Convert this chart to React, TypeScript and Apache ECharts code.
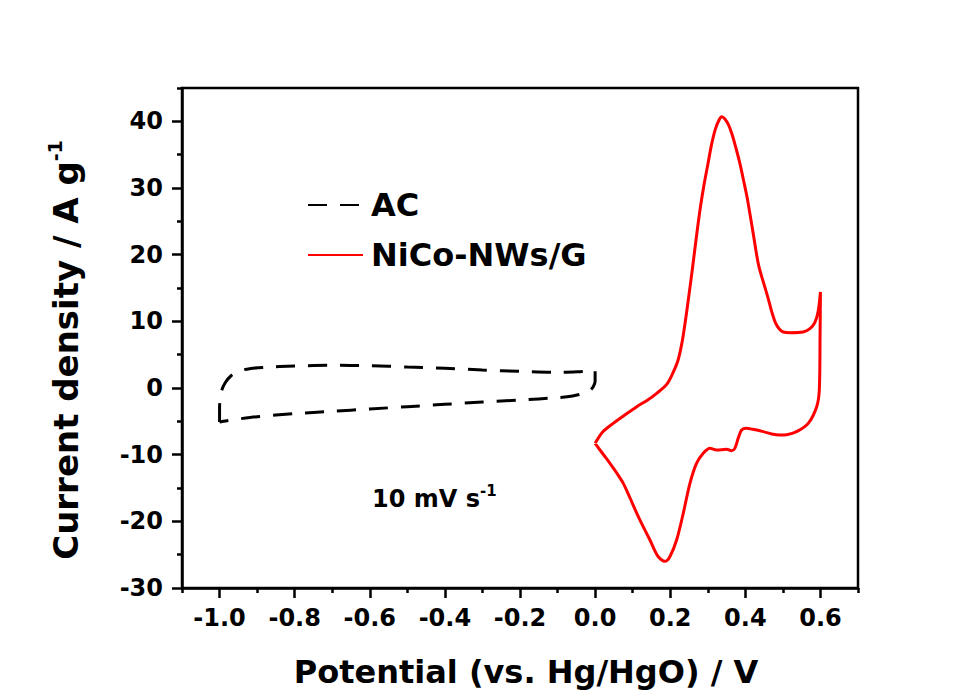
import React, { useEffect, useRef } from "react";
import * as echarts from "echarts";

// ---- Data ----
const seriesNames = ["AC", "NiCo-NWs/G"];

// AC (dashed black) cyclic voltammogram, potential in V, current in A/g
const acPotential = [
  -1.0, -1.0, -0.995, -0.985, -0.97, -0.95, -0.92, -0.88, -0.8, -0.7, -0.6, -0.5, -0.4, -0.3, -0.2, -0.1, -0.04, -0.01, 0.0,
  0.0, -0.005, -0.015, -0.03, -0.06, -0.1, -0.2, -0.3, -0.4, -0.5, -0.6, -0.7, -0.8, -0.9, -0.95, -0.98, -0.995, -1.0,
];
const acCurrent = [
  -5.1, -3.0, -0.5, 0.8, 1.8, 2.5, 2.9, 3.1, 3.3, 3.4, 3.35, 3.15, 2.95, 2.7, 2.5, 2.35, 2.45, 2.55, 2.6,
  1.0, 0.2, -0.4, -0.8, -1.2, -1.45, -1.8, -2.1, -2.45, -2.8, -3.15, -3.5, -3.85, -4.3, -4.65, -4.9, -5.05, -5.1,
];

// NiCo-NWs/G (solid red) cyclic voltammogram
const nicoPotential = [
  0.0, 0.02, 0.048, 0.08, 0.111, 0.14, 0.164, 0.19, 0.205, 0.221, 0.232, 0.241, 0.25, 0.26, 0.27, 0.28, 0.29, 0.3,
  0.31, 0.32, 0.33, 0.337, 0.345, 0.355, 0.365, 0.375, 0.385, 0.395, 0.405, 0.42, 0.435, 0.45, 0.46, 0.47, 0.48,
  0.49, 0.501, 0.52, 0.554, 0.572, 0.585, 0.594, 0.6,
  0.599, 0.597, 0.59, 0.5675, 0.5365, 0.51, 0.492, 0.47, 0.4476, 0.42, 0.4035, 0.39, 0.381, 0.372, 0.3635, 0.35,
  0.3236, 0.3057, 0.2879, 0.27, 0.2525, 0.2347, 0.217, 0.199, 0.186, 0.168, 0.146, 0.128, 0.111, 0.093, 0.075,
  0.057, 0.0395, 0.025, 0.013, 0.0,
];
const nicoCurrent = [
  -8.3, -6.6, -5.3, -4.0, -2.8, -1.8, -0.8, 0.5, 2.0, 4.2, 7.0, 10.3, 14.0, 18.3, 22.8, 27.0, 30.5, 33.5,
  36.5, 38.8, 40.2, 40.7, 40.4, 39.5, 38.0, 36.0, 33.8, 31.2, 28.5, 23.5, 18.5, 15.5, 13.6, 11.5, 9.8,
  8.9, 8.4, 8.3, 8.4, 8.9, 9.8, 11.5, 14.4,
  8.0, -0.3, -2.8, -5.3, -6.55, -7.0, -7.05, -6.9, -6.55, -6.2, -6.05, -6.3, -7.55, -9.05, -9.4, -9.2,
  -9.3, -9.05, -9.8, -11.3, -14.3, -18.8, -22.8, -25.3, -26.0, -25.3, -22.8, -20.8, -18.8, -16.5, -14.3,
  -12.7, -11.3, -10.2, -9.3, -8.3,
];

// Axis ticks and labels
const xMajorTicks = [-1.0, -0.8, -0.6, -0.4, -0.2, 0.0, 0.2, 0.4, 0.6];
const xMinorTicks = [-1.1, -0.9, -0.7, -0.5, -0.3, -0.1, 0.1, 0.3, 0.5, 0.7];
const yMajorTicks = [-30, -20, -10, 0, 10, 20, 30, 40];
const yMinorTicks = [-25, -15, -5, 5, 15, 25, 35, 45];
const xRange = [-1.1, 0.7];
const yRange = [-30, 45];

const FONT = "'DejaVu Sans', 'Liberation Sans', Arial, sans-serif";

export default function App() {
  const ref = useRef<HTMLDivElement>(null);

  useEffect(() => {
    if (!ref.current) return;
    const chart = echarts.init(ref.current, undefined, { renderer: "svg" });

    const acData = acPotential.map((x, i) => [x, acCurrent[i]]);
    const nicoData = nicoPotential.map((x, i) => [x, nicoCurrent[i]]);

    const labelStyle = {
      color: "#000",
      fontFamily: FONT,
      fontWeight: "bold" as const,
      fontSize: 24,
    };

    chart.setOption({
      animation: false,
      backgroundColor: "#ffffff",
      grid: {
        left: 182,
        top: 88,
        right: 122,
        bottom: 109,
        show: true,
        borderColor: "#000",
        borderWidth: 2.5,
        backgroundColor: "transparent",
      },
      legend: {
        orient: "vertical",
        left: 302,
        top: 184,
        itemWidth: 55,
        itemHeight: 14,
        itemGap: 18,
        data: seriesNames,
        itemStyle: { opacity: 0 },
        textStyle: {
          color: "#000",
          fontFamily: FONT,
          fontWeight: "bold",
          fontSize: 32,
          padding: [0, 0, 0, 3],
        },
      },
      xAxis: [
        {
          type: "value",
          min: xRange[0],
          max: xRange[1],
          position: "bottom",
          name: "Potential (vs. Hg/HgO) / V",
          nameLocation: "middle",
          nameGap: 68,
          nameTextStyle: {
            color: "#000",
            fontFamily: FONT,
            fontWeight: "bold",
            fontSize: 32,
            padding: [0, 0, 0, 12],
          },
          axisLine: { show: true, onZero: false, lineStyle: { color: "#000", width: 2.5 } },
          axisTick: {
            show: true,
            inside: false,
            length: 10,
            customValues: xMajorTicks,
            lineStyle: { color: "#000", width: 2.5 },
          },
          axisLabel: {
            ...labelStyle,
            margin: 18,
            customValues: xMajorTicks,
            formatter: (v: number) => v.toFixed(1),
          },
          splitLine: { show: false },
        },
        {
          type: "value",
          min: xRange[0],
          max: xRange[1],
          position: "bottom",
          axisLine: { show: false, onZero: false },
          axisTick: {
            show: true,
            inside: false,
            length: 5,
            customValues: xMinorTicks,
            lineStyle: { color: "#000", width: 2.5 },
          },
          axisLabel: { show: false },
          splitLine: { show: false },
        },
      ],
      yAxis: [
        {
          type: "value",
          min: yRange[0],
          max: yRange[1],
          position: "left",
          axisLine: { show: true, onZero: false, lineStyle: { color: "#000", width: 2.5 } },
          axisTick: {
            show: true,
            inside: false,
            length: 10,
            customValues: yMajorTicks,
            lineStyle: { color: "#000", width: 2.5 },
          },
          axisLabel: {
            ...labelStyle,
            margin: 19,
            customValues: yMajorTicks,
            formatter: (v: number) => String(v),
          },
          splitLine: { show: false },
        },
        {
          type: "value",
          min: yRange[0],
          max: yRange[1],
          position: "left",
          axisLine: { show: false, onZero: false },
          axisTick: {
            show: true,
            inside: false,
            length: 5,
            customValues: yMinorTicks,
            lineStyle: { color: "#000", width: 2.5 },
          },
          axisLabel: { show: false },
          splitLine: { show: false },
        },
      ],
      graphic: [
        {
          type: "text",
          x: 66,
          y: 350,
          rotation: Math.PI / 2,
          style: {
            text: "{m|Current density / A g}{s|-1}",
            align: "center",
            verticalAlign: "middle",
            fill: "#000",
            rich: {
              m: { fontFamily: FONT, fontWeight: "bold", fontSize: 34, fill: "#000", lineHeight: 42 },
              s: { fontFamily: FONT, fontWeight: "bold", fontSize: 19, fill: "#000", verticalAlign: "top", lineHeight: 20 },
            },
          },
        },
        {
          type: "text",
          x: 372,
          y: 499,
          style: {
            text: "{m|10 mV s}{s|-1}",
            align: "left",
            verticalAlign: "middle",
            fill: "#000",
            rich: {
              m: { fontFamily: FONT, fontWeight: "bold", fontSize: 24, fill: "#000", lineHeight: 32 },
              s: { fontFamily: FONT, fontWeight: "bold", fontSize: 15, fill: "#000", verticalAlign: "top", lineHeight: 16 },
            },
          },
        },
      ],
      series: [
        {
          name: seriesNames[0],
          type: "line",
          xAxisIndex: 0,
          yAxisIndex: 0,
          data: acData,
          showSymbol: false,
          symbol: "none",
          smooth: 0.3,
          color: "#000",
          lineStyle: { color: "#000", width: 3, type: [19, 13] },
        },
        {
          name: seriesNames[1],
          type: "line",
          xAxisIndex: 0,
          yAxisIndex: 0,
          data: nicoData,
          showSymbol: false,
          symbol: "none",
          smooth: 0.3,
          color: "#ff0000",
          lineStyle: { color: "#ff0000", width: 3 },
        },
      ],
    });

    return () => chart.dispose();
  }, []);

  return (
    <div
      ref={ref}
      style={{ position: "absolute", left: 0, top: 0, width: 980, height: 697, background: "#fff" }}
    />
  );
}
